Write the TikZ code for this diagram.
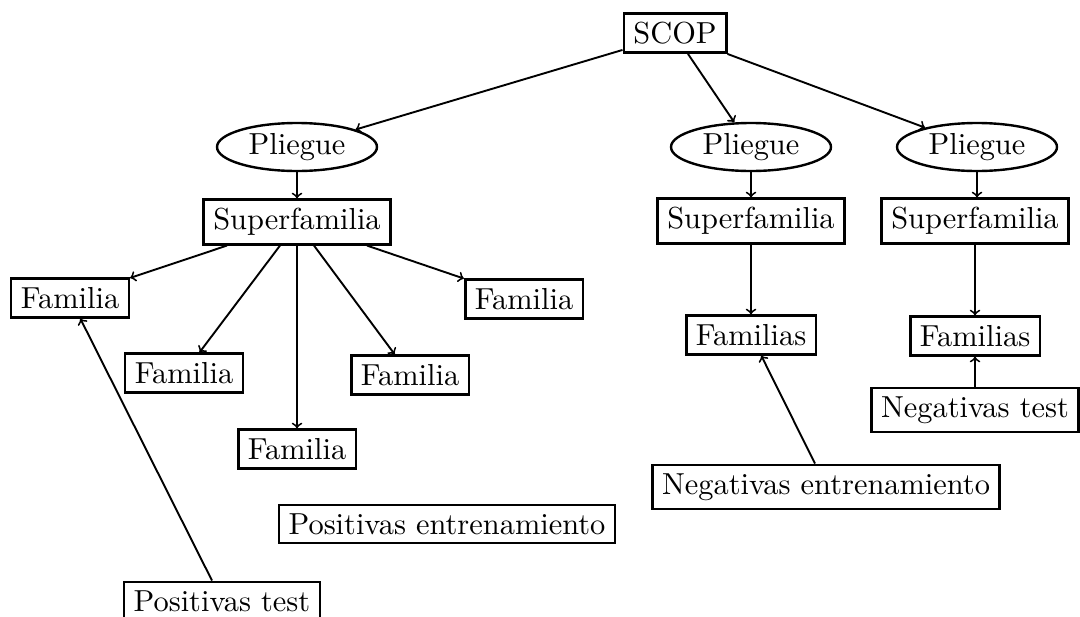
\documentclass[tikz,border=0pt]{standalone}
\usepackage{fontspec}
\newfontfamily\cmten{lmroman10-regular.otf}
\usetikzlibrary{shapes.geometric,calc}
\begin{document}
\begin{tikzpicture}[x=0.5pt,y=-0.5pt,
  every node/.style={font=\cmten\fontsize{15.2}{18}\selectfont},
  box/.style={draw,line width=1.3pt,inner xsep=4.8pt,inner ysep=4.3pt},
  oval/.style={draw,ellipse,line width=1.2pt,minimum width=80pt,minimum height=24pt,inner sep=0pt},
  conn/.style={->,line width=0.95pt}]
\useasboundingbox (0,0) rectangle (1080,616);
\node[box] (scop) at (675,33) {SCOP};
\node[oval] (p1) at (297,147) {Pliegue};
\node[oval] (p2) at (751,147) {Pliegue};
\node[oval] (p3) at (977,147) {Pliegue};
\node[box] (s1) at (297,222) {Superfamilia};
\node[box] (s2) at (751,221) {Superfamilia};
\node[box] (s3) at (975,221) {Superfamilia};
\node[box] (f1) at (70,298) {Familia};
\node[box] (f2) at (184,373) {Familia};
\node[box] (f3) at (297,449) {Familia};
\node[box] (f4) at (410,375) {Familia};
\node[box] (f5) at (524,299) {Familia};
\node[box] (fs2) at (751,335) {Familias};
\node[box] (fs3) at (975,336) {Familias};
\node[box] (nt) at (975,410) {Negativas test};
\node[box] (ne) at (826,487) {Negativas entrenamiento};
\node[box] (pe) at (447,524) {Positivas entrenamiento};
\node[box] (pt) at (222,601) {Positivas test};
\draw[conn] ([yshift=2pt]scop.south west) -- (p1);
\draw[conn] ([xshift=6.5pt]scop.south) -- (p2);
\draw[conn] (scop.south east) -- (p3);
\draw[conn] (p1) -- (s1);
\draw[conn] (p2) -- (s2);
\draw[conn] (p3.south) -- (p3.south |- s3.north);
\draw[conn] ([xshift=-35pt]s1.south) -- (f1);
\draw[conn] ([xshift=-8.5pt]s1.south) -- (f2);
\draw[conn] (s1) -- (f3);
\draw[conn] ([xshift=8.5pt]s1.south) -- (f4);
\draw[conn] ([xshift=35pt]s1.south) -- (f5);
\draw[conn] (s2) -- (fs2);
\draw[conn] (s3) -- (fs3);
\draw[conn] (nt) -- (fs3);
\draw[conn] ([xshift=-5.5pt]ne.north) -- (fs2);
\draw[conn] ([xshift=-5pt]pt.north) -- (f1);
\end{tikzpicture}
\end{document}
